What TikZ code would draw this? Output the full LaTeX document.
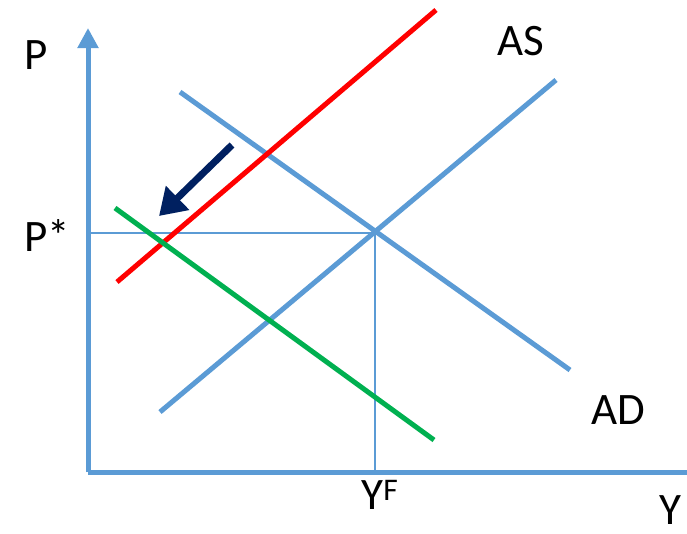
\documentclass[tikz,border=0pt]{standalone}
\usepackage{fontspec}
\setmainfont{Carlito}
\usetikzlibrary{arrows.meta}
\definecolor{axisblue}{HTML}{5B9BD5}
\definecolor{shiftred}{HTML}{FF0000}
\definecolor{shiftgreen}{HTML}{00B050}
\definecolor{navy}{HTML}{002060}

\begin{document}
\begin{tikzpicture}[x=1pt, y=-1pt,
  axis/.style={draw=axisblue, line width=5pt},
  curve/.style={line width=5pt, line cap=butt},
  guide/.style={draw=axisblue, line width=1.3pt},
  lbl/.style={font=\fontsize{45}{50}\selectfont, inner sep=0pt}
]
\useasboundingbox (0,0) rectangle (687,533);
% axes
\coordinate (o) at (88,472);
\coordinate (ytop) at (88,28);
\coordinate (xend) at (700,472);
\draw[axis, -{Triangle[length=20pt,width=20pt]}] (o) -- (ytop);
\draw[axis] (o) -- (xend);
% equilibrium guides
\coordinate (eq) at (375,233);
\coordinate (peq) at (88,233);
\coordinate (yeq) at (375,472);
\draw[guide] (peq) -- (eq) -- (yeq);
% curves
\coordinate (as1) at (160,412);
\coordinate (as2) at (556,80);
\coordinate (ad1) at (180,92);
\coordinate (ad2) at (570,370);
\coordinate (red1) at (117,282);
\coordinate (red2) at (436,10);
\coordinate (grn1) at (115,208);
\coordinate (grn2) at (434,440);
\draw[curve, axisblue] (as1) -- (as2);
\draw[curve, axisblue] (ad1) -- (ad2);
\draw[curve, shiftred] (red1) -- (red2);
\draw[curve, shiftgreen] (grn1) -- (grn2);
% shift arrow
\coordinate (sh1) at (232,145);
\coordinate (sh2) at (159,216);
\draw[navy, line width=7pt, -{Triangle[length=26pt,width=32pt]}] (sh1) -- (sh2);
% labels
\node[lbl] (plab) at (36,55) {P};
\node[lbl] (aslab) at (521,41) {AS};
\node[lbl] (pstar) at (47,236) {P*};
\node[lbl] (adlab) at (618,410) {AD};
\node[lbl] (yflab) at (380,495) {Y\textsuperscript{F}};
\node[lbl] (ylab) at (670,510) {Y};
\end{tikzpicture}
\end{document}
